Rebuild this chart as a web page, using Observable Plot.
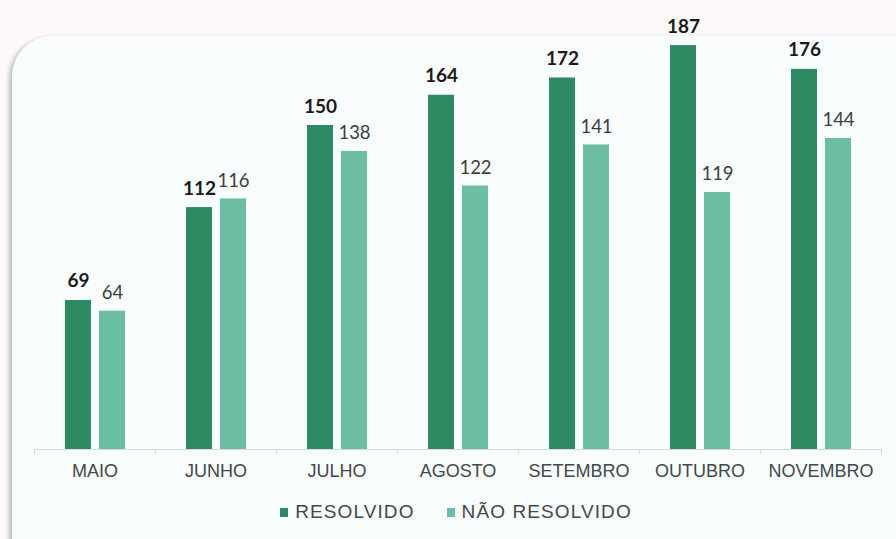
<!DOCTYPE html>
<html>
<head>
<meta charset="utf-8">
<script src="https://cdn.jsdelivr.net/npm/d3@7"></script>
<script src="https://cdn.jsdelivr.net/npm/@observablehq/plot@0.6"></script>
<style>
  html, body { margin: 0; padding: 0; }
  body { width: 896px; height: 539px; background: #fdf9fb; position: relative; overflow: hidden; font-family: "Liberation Sans", Arial, sans-serif; }
  #panel { position: absolute; left: 12px; top: 36px; width: 900px; height: 540px; background: #f8fcfc; border-top-left-radius: 40px; box-shadow: -3px 2px 4px #b8bcbc; }
  #chart { position: absolute; left: 0; top: 0; }
  #legend { position: absolute; left: 0; top: 501px; width: 896px; padding-left: 16px; box-sizing: border-box; display: flex; justify-content: center; gap: 32px; font-size: 19px; letter-spacing: 1.1px; color: #404a4a; }
  .item { display: flex; align-items: center; gap: 7px; }
  .sw { width: 8px; height: 9px; display: inline-block; }
</style>
</head>
<body>
<div id="panel"></div>
<div id="chart"></div>
<div id="legend"></div>
<script>
const months = ["MAIO", "JUNHO", "JULHO", "AGOSTO", "SETEMBRO", "OUTUBRO", "NOVEMBRO"];
const resolvido = [69, 112, 150, 164, 172, 187, 176];
const naoResolvido = [64, 116, 138, 122, 141, 119, 144];
const seriesNames = ["RESOLVIDO", "NÃO RESOLVIDO"];
const colors = ["#2e8a63", "#6bbda4"];

const dataR = months.map((m, i) => ({month: m, value: resolvido[i]}));
const dataN = months.map((m, i) => ({month: m, value: naoResolvido[i]}));

const chart = Plot.plot({
  width: 896,
  height: 490,
  marginLeft: 34,
  marginRight: 15,
  marginTop: 17,
  marginBottom: 41,
  style: {background: "transparent", overflow: "visible"},
  x: {domain: months, padding: 0, label: null},
  y: {domain: [0, 200], axis: null},
  marks: [
    Plot.ruleY([0], {stroke: "#d6dada", strokeWidth: 1}),
    Plot.ruleX(months, {x: d => d, dx: -60.5, y1: 0, y2: 0, insetBottom: -5, stroke: "#d6dada"}),
    Plot.ruleX([months[months.length - 1]], {x: d => d, dx: 60.5, y1: 0, y2: 0, insetBottom: -5, stroke: "#d6dada"}),
    Plot.barY(dataR, {x: "month", y: "value", fill: colors[0], insetLeft: 31, insetRight: 64}),
    Plot.barY(dataN, {x: "month", y: "value", fill: colors[1], insetLeft: 65, insetRight: 30}),
    Plot.text(dataR, {x: "month", y: "value", text: d => String(d.value), dx: -16.5, dy: -13, lineAnchor: "bottom", fontFamily: "Lato, sans-serif", fontWeight: "bold", fontSize: 19, fill: "#1a1a1a"}),
    Plot.text(dataN, {x: "month", y: "value", text: d => String(d.value), dx: 17.5, dy: -12, lineAnchor: "bottom", fontFamily: "Lato, sans-serif", fontSize: 18.5, fill: "#3a4040"}),
    Plot.axisX({tickSize: 0, tickPadding: 15, fontSize: 18, fontFamily: "Liberation Sans, Arial, sans-serif", fill: "#404a4a", label: null, style: "letter-spacing:1px"})
  ]
});
document.getElementById("chart").appendChild(chart);

const legend = document.getElementById("legend");
seriesNames.forEach((name, i) => {
  const item = document.createElement("span");
  item.className = "item";
  const sw = document.createElement("span");
  sw.className = "sw";
  sw.style.background = colors[i];
  item.appendChild(sw);
  item.appendChild(document.createTextNode(name));
  legend.appendChild(item);
});
</script>
</body>
</html>
